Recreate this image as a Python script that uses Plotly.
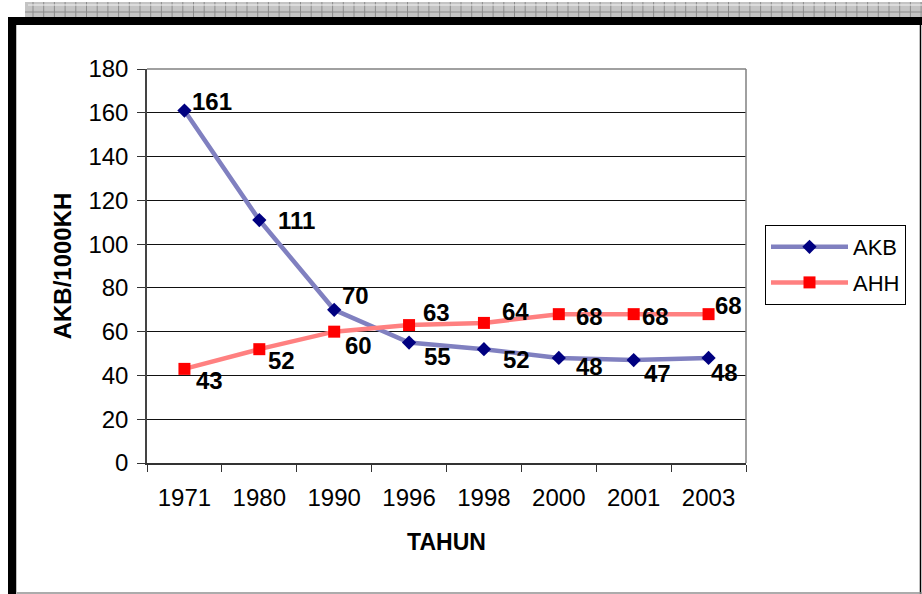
import plotly.graph_objects as go

# data
tahun = ["1971", "1980", "1990", "1996", "1998", "2000", "2001", "2003"]
akb = [161, 111, 70, 55, 52, 48, 47, 48]
ahh = [43, 52, 60, 63, 64, 68, 68, 68]

FONT = "Liberation Sans, Arial, sans-serif"
W, H = 922, 594
L, R, T, B = 147, 746, 69, 463   # plot area in pixels


def px(x):
    return (x - L) / (R - L)


def py(y):
    return (B - y) / (B - T)


# label offsets (px right, px up) from each marker
akb_off = [(6, 9), (17, 0), (6, 14), (13, -14), (17, -10), (15, -9), (8, -13), (0, -15)]
ahh_off = [(10, -12), (7, -11), (9, -14), (12, 13), (16, 11), (15, -2), (6, -2), (4, 9)]

fig = go.Figure()
fig.add_trace(go.Scatter(
    x=tahun, y=akb, name="AKB", mode="lines+markers", legendgroup="a",
    line=dict(color="#8080c0", width=4.5),
    marker=dict(symbol="diamond", size=11, color="#000080")))
fig.add_trace(go.Scatter(
    x=tahun, y=ahh, name="AHH", mode="lines+markers", legendgroup="b",
    line=dict(color="#ff8080", width=4.5),
    marker=dict(symbol="square", size=12, color="#ff0000")))

ann = []
for vals, offs in ((akb, akb_off), (ahh, ahh_off)):
    # category index as x, so the year strings are not read as numbers
    for i, (v, (dx, dy)) in enumerate(zip(vals, offs)):
        ann.append(dict(x=i, y=v, xref="x", yref="y", text="<b>%d</b>" % v,
                        showarrow=False, xanchor="left", yanchor="middle",
                        xshift=dx, yshift=dy,
                        font=dict(family=FONT, size=24, color="black")))

shapes = []
# plot area grey top / right border
shapes.append(dict(type="line", xref="paper", yref="paper", x0=0, x1=1, y0=1, y1=1,
                   line=dict(color="#808080", width=1.5)))
shapes.append(dict(type="line", xref="paper", yref="paper", x0=1, x1=1, y0=0, y1=1,
                   line=dict(color="#808080", width=1.5)))
# hatched strip on top
shapes.append(dict(type="rect", xref="paper", yref="paper", x0=px(25), x1=px(922),
                   y0=py(17), y1=py(2), fillcolor="#c4c4c4", line=dict(width=0), layer="below"))
xx = 33
while xx < 922:
    shapes.append(dict(type="line", xref="paper", yref="paper", x0=px(xx), x1=px(xx),
                       y0=py(17), y1=py(2), line=dict(color="#8c8c8c", width=1)))
    xx += 10.7
shapes.append(dict(type="line", xref="paper", yref="paper", x0=px(28), x1=px(922),
                   y0=py(5), y1=py(5), line=dict(color="#f4f4f4", width=1)))
shapes.append(dict(type="line", xref="paper", yref="paper", x0=px(25), x1=px(922),
                   y0=py(12), y1=py(12), line=dict(color="#8c8c8c", width=1)))
# black frame
shapes.append(dict(type="rect", xref="paper", yref="paper", x0=px(8), x1=px(922),
                   y0=py(25), y1=py(17), fillcolor="black", line=dict(width=0)))
shapes.append(dict(type="rect", xref="paper", yref="paper", x0=px(8), x1=px(16),
                   y0=py(594), y1=py(17), fillcolor="black", line=dict(width=0)))
shapes.append(dict(type="line", xref="paper", yref="paper", x0=px(920.5), x1=px(920.5),
                   y0=py(594), y1=py(25), line=dict(color="black", width=1.5)))
shapes.append(dict(type="line", xref="paper", yref="paper", x0=px(16), x1=px(922),
                   y0=py(593), y1=py(593), line=dict(color="#909090", width=1.5)))
shapes.append(dict(type="line", xref="paper", yref="paper", x0=px(16.5), x1=px(16.5),
                   y0=py(594), y1=py(25), line=dict(color="#c0c0c0", width=1)))

fig.update_layout(
    width=W, height=H,
    margin=dict(l=L, r=W - R, t=T, b=H - B),
    paper_bgcolor="white", plot_bgcolor="white",
    font=dict(family=FONT, size=24, color="black"),
    showlegend=True,
    legend=dict(x=px(765), y=py(225), xanchor="left", yanchor="top",
                bordercolor="black", borderwidth=1, bgcolor="white",
                font=dict(family=FONT, size=22, color="black"),
                itemwidth=77, tracegroupgap=4),
    annotations=ann,
    shapes=shapes,
)
fig.update_xaxes(
    type="category", range=[-0.5, len(tahun) - 0.5], autorange=False,
    tickson="boundaries", ticks="outside", ticklen=7,
    tickcolor="#333333", showline=True, linecolor="#333333", linewidth=1.5,
    showgrid=False, ticklabelstandoff=12, tickangle=0,
    tickfont=dict(family=FONT, size=24),
    title=dict(text="<b>TAHUN</b>", standoff=24, font=dict(family=FONT, size=23)))
fig.update_yaxes(
    range=[0, 180], autorange=False, dtick=20, ticks="outside", ticklen=8,
    tickcolor="#333333", showline=True, linecolor="#444444", linewidth=1.5,
    showgrid=True, gridcolor="#111111", gridwidth=1, zeroline=False,
    ticklabelstandoff=4,
    tickfont=dict(family=FONT, size=24),
    title=dict(text="<b>AKB/1000KH</b>", standoff=10, font=dict(family=FONT, size=24)))

# page body has a default 8px margin; drop it so the figure fills the window
fig.write_html("out.html", config={"displayModeBar": False},
               post_script="document.body.style.margin='0';")
